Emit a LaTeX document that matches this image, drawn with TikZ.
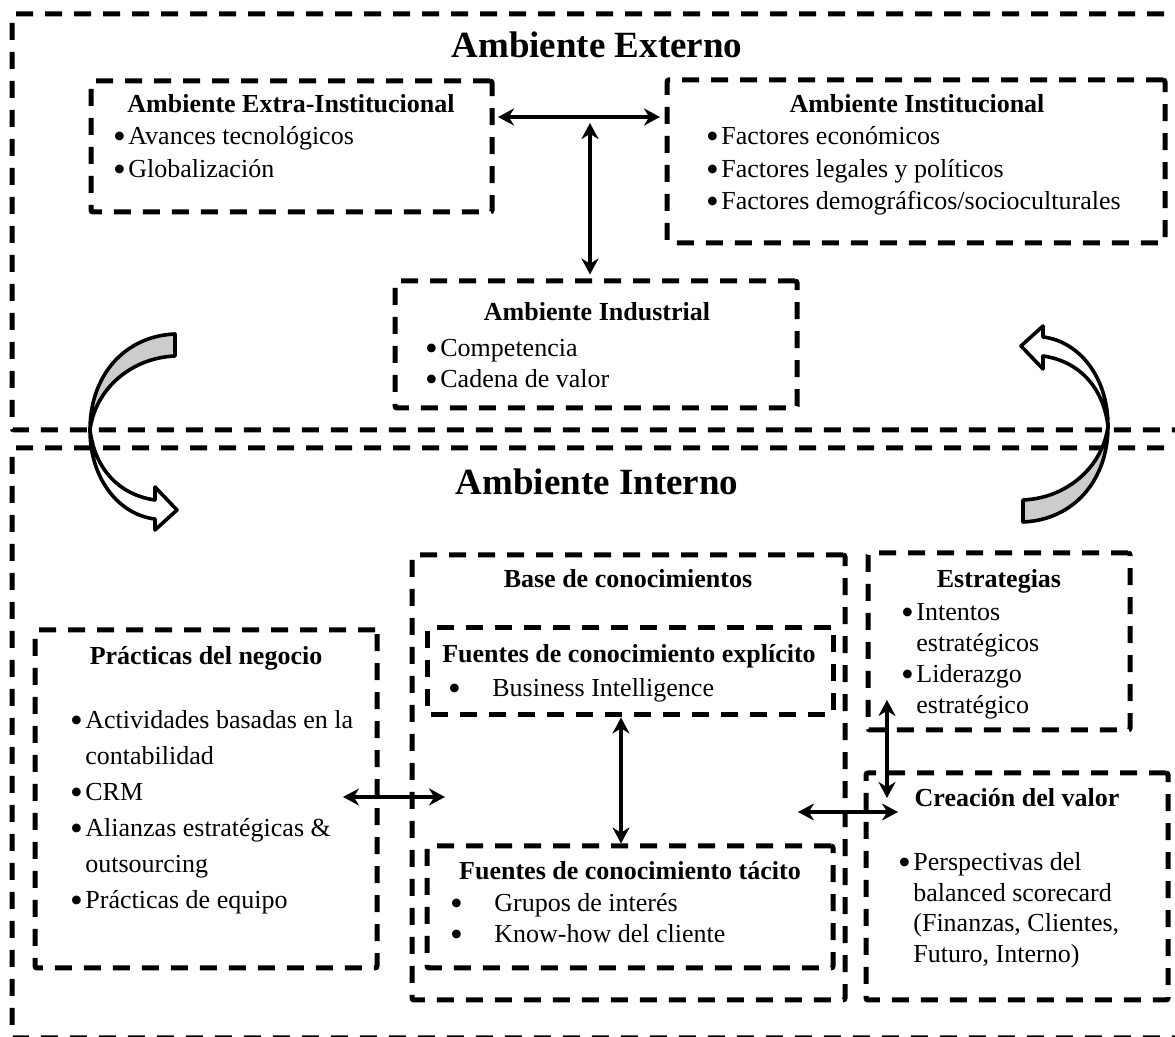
\documentclass[tikz,border=0pt]{standalone}
\usepackage{fontspec}
\usepackage{graphicx}
\setmainfont{Liberation Serif}
\usetikzlibrary{arrows.meta,fit}

\newcommand{\bodyfont}{\fontsize{13pt}{16pt}\selectfont}
\newcommand{\bigdot}{\makebox[4pt]{\smash{\raisebox{-1.6pt}{\scalebox{1.4}{\textbullet}}}}}
\newcommand{\bul}{\makebox[6.5pt][l]{\bigdot}}
\newcommand{\nob}{\makebox[6.5pt][l]{}}
\newcommand{\tabul}{\makebox[21pt][l]{\bigdot}}
% curved arrow, drawn once on the left and once turned round on the right
\newcommand{\bentarrow}{%
  \filldraw[fill=white,line width=1.8pt,line join=round]
    (90,430) .. controls (90,480) and (120,515) .. (155,519) -- (155,530)
    -- (177,510) -- (155,487) -- (155,500)
    .. controls (120,495) and (95,470) .. (90,430) -- cycle;
  \filldraw[fill=black!20,line width=1.8pt,line join=round]
    (175,334) .. controls (125,336) and (90,375) .. (90,430)
    .. controls (95,390) and (130,358) .. (175,356) -- cycle;
}

\begin{document}
\begin{tikzpicture}[x=0.5pt,y=-0.5pt,
  box/.style={draw,line width=2.5pt,dash pattern=on 8.5pt off 6pt,rounded corners=1pt,inner sep=0pt},
  ttl/.style={inner sep=0pt,anchor=base,font=\bodyfont\bfseries},
  big/.style={inner sep=0pt,anchor=base,font=\fontsize{18.5pt}{22pt}\selectfont\bfseries},
  itm/.style={inner sep=0pt,anchor=base west,font=\bodyfont},
  dbl/.style={{Stealth[length=8pt,width=8.5pt]}-{Stealth[length=8pt,width=8.5pt]},line width=2pt}]
\useasboundingbox (0,0) rectangle (1175,1037);
\clip (0,0) rectangle (1175,1037);

% Ambiente Externo
\node[box,fit={(12,14) (1195,430)}] (externo) {};
\node[big] (externo-t) at (597,58) {Ambiente Externo};

\node[box,fit={(91,81) (492,212)}] (extra) {};
\node[ttl] (extra-t) at (291,113) {Ambiente Extra-Institucional};
\foreach \y/\t [count=\i] in {145/{\bul Avances tecnológicos},178/{\bul Globalización}}
  \node[itm] (extra-\i) at (115,\y) {\t};

\node[box,fit={(667,80) (1165,243)}] (inst) {};
\node[ttl] (inst-t) at (917,113) {Ambiente Institucional};
\foreach \y/\t [count=\i] in {145/{\bul Factores económicos},178/{\bul Factores legales y políticos},
  210/{\bul Factores demográficos/socioculturales}}
  \node[itm] (inst-\i) at (708,\y) {\t};

\node[box,fit={(395,281) (797,408)}] (indus) {};
\node[ttl] (indus-t) at (597,321) {Ambiente Industrial};
\foreach \y/\t [count=\i] in {357/{\bul Competencia},388/{\bul Cadena de valor}}
  \node[itm] (indus-\i) at (427,\y) {\t};

\coordinate (hl) at (498,117);
\coordinate (hr) at (660,117);
\coordinate (vt) at (590,123);
\draw[dbl] (hl) -- (hr);
\draw[dbl,shorten >=2pt] (vt) -- (indus.north -| vt);

% Ambiente Interno
\node[box,fit={(12,448) (1195,1038)}] (interno) {};
\node[big] (interno-t) at (597,495) {Ambiente Interno};

\node[box,fit={(35,630) (377,968)}] (practicas) {};
\node[ttl] (practicas-t) at (206,665) {Prácticas del negocio};
\foreach \y/\t [count=\i] in {729/{\bul Actividades basadas en la},765/{\nob contabilidad},801/{\bul CRM},
  837/{\bul Alianzas estratégicas \&},873/{\nob outsourcing},909/{\bul Prácticas de equipo}}
  \node[itm] (practicas-\i) at (72,\y) {\t};

\node[box,fit={(412,555) (845,1000)}] (base) {};
\node[ttl] (base-t) at (628,588) {Base de conocimientos};

\node[box,fit={(427,628) (833,715)}] (explicito) {};
\node[ttl] (explicito-t) at (629,663) {Fuentes de conocimiento explícito};
\node[itm] (explicito-1) at (450,697) {\tabul Business Intelligence};

\node[box,fit={(427,846) (833,968)}] (tacito) {};
\node[ttl] (tacito-t) at (630,880) {Fuentes de conocimiento tácito};
\foreach \y/\t [count=\i] in {912/{\tabul Grupos de interés},943/{\tabul Know-how del cliente}}
  \node[itm] (tacito-\i) at (452,\y) {\t};

\node[box,fit={(868,553) (1130,730)}] (estrategias) {};
\node[ttl] (estrategias-t) at (999,588) {Estrategias};
\foreach \y/\t [count=\i] in {621/{\bul Intentos},652/{\nob estratégicos},683/{\bul Liderazgo},714/{\nob estratégico}}
  \node[itm] (estrategias-\i) at (903,\y) {\t};

\node[box,fit={(866,773) (1168,1000)}] (creacion) {};
\node[ttl] (creacion-t) at (1017,807) {Creación del valor};
\foreach \y/\t [count=\i] in {871/{\bul Perspectivas del},902/{\nob balanced scorecard},
  932/{\nob (Finanzas, Clientes,},963/{\nob Futuro, Interno)}}
  \node[itm] (creacion-\i) at (900,\y) {\t};

\coordinate (pl) at (343,797);
\coordinate (pr) at (445,797);
\coordinate (kx) at (621,0);
\coordinate (cl) at (798,812);
\coordinate (cr) at (898,812);
\coordinate (et) at (887,700);
\coordinate (eb) at (887,798);
\draw[dbl] (pl) -- (pr);
\draw[dbl] (explicito.south -| kx) -- (tacito.north -| kx);
\draw[dbl] (cl) -- (cr);
\draw[dbl] (et) -- (eb);

% curved arrows between the two environments
\bentarrow
\begin{scope}[rotate around={180:(599,428)}]
\bentarrow
\end{scope}
\end{tikzpicture}
\end{document}
